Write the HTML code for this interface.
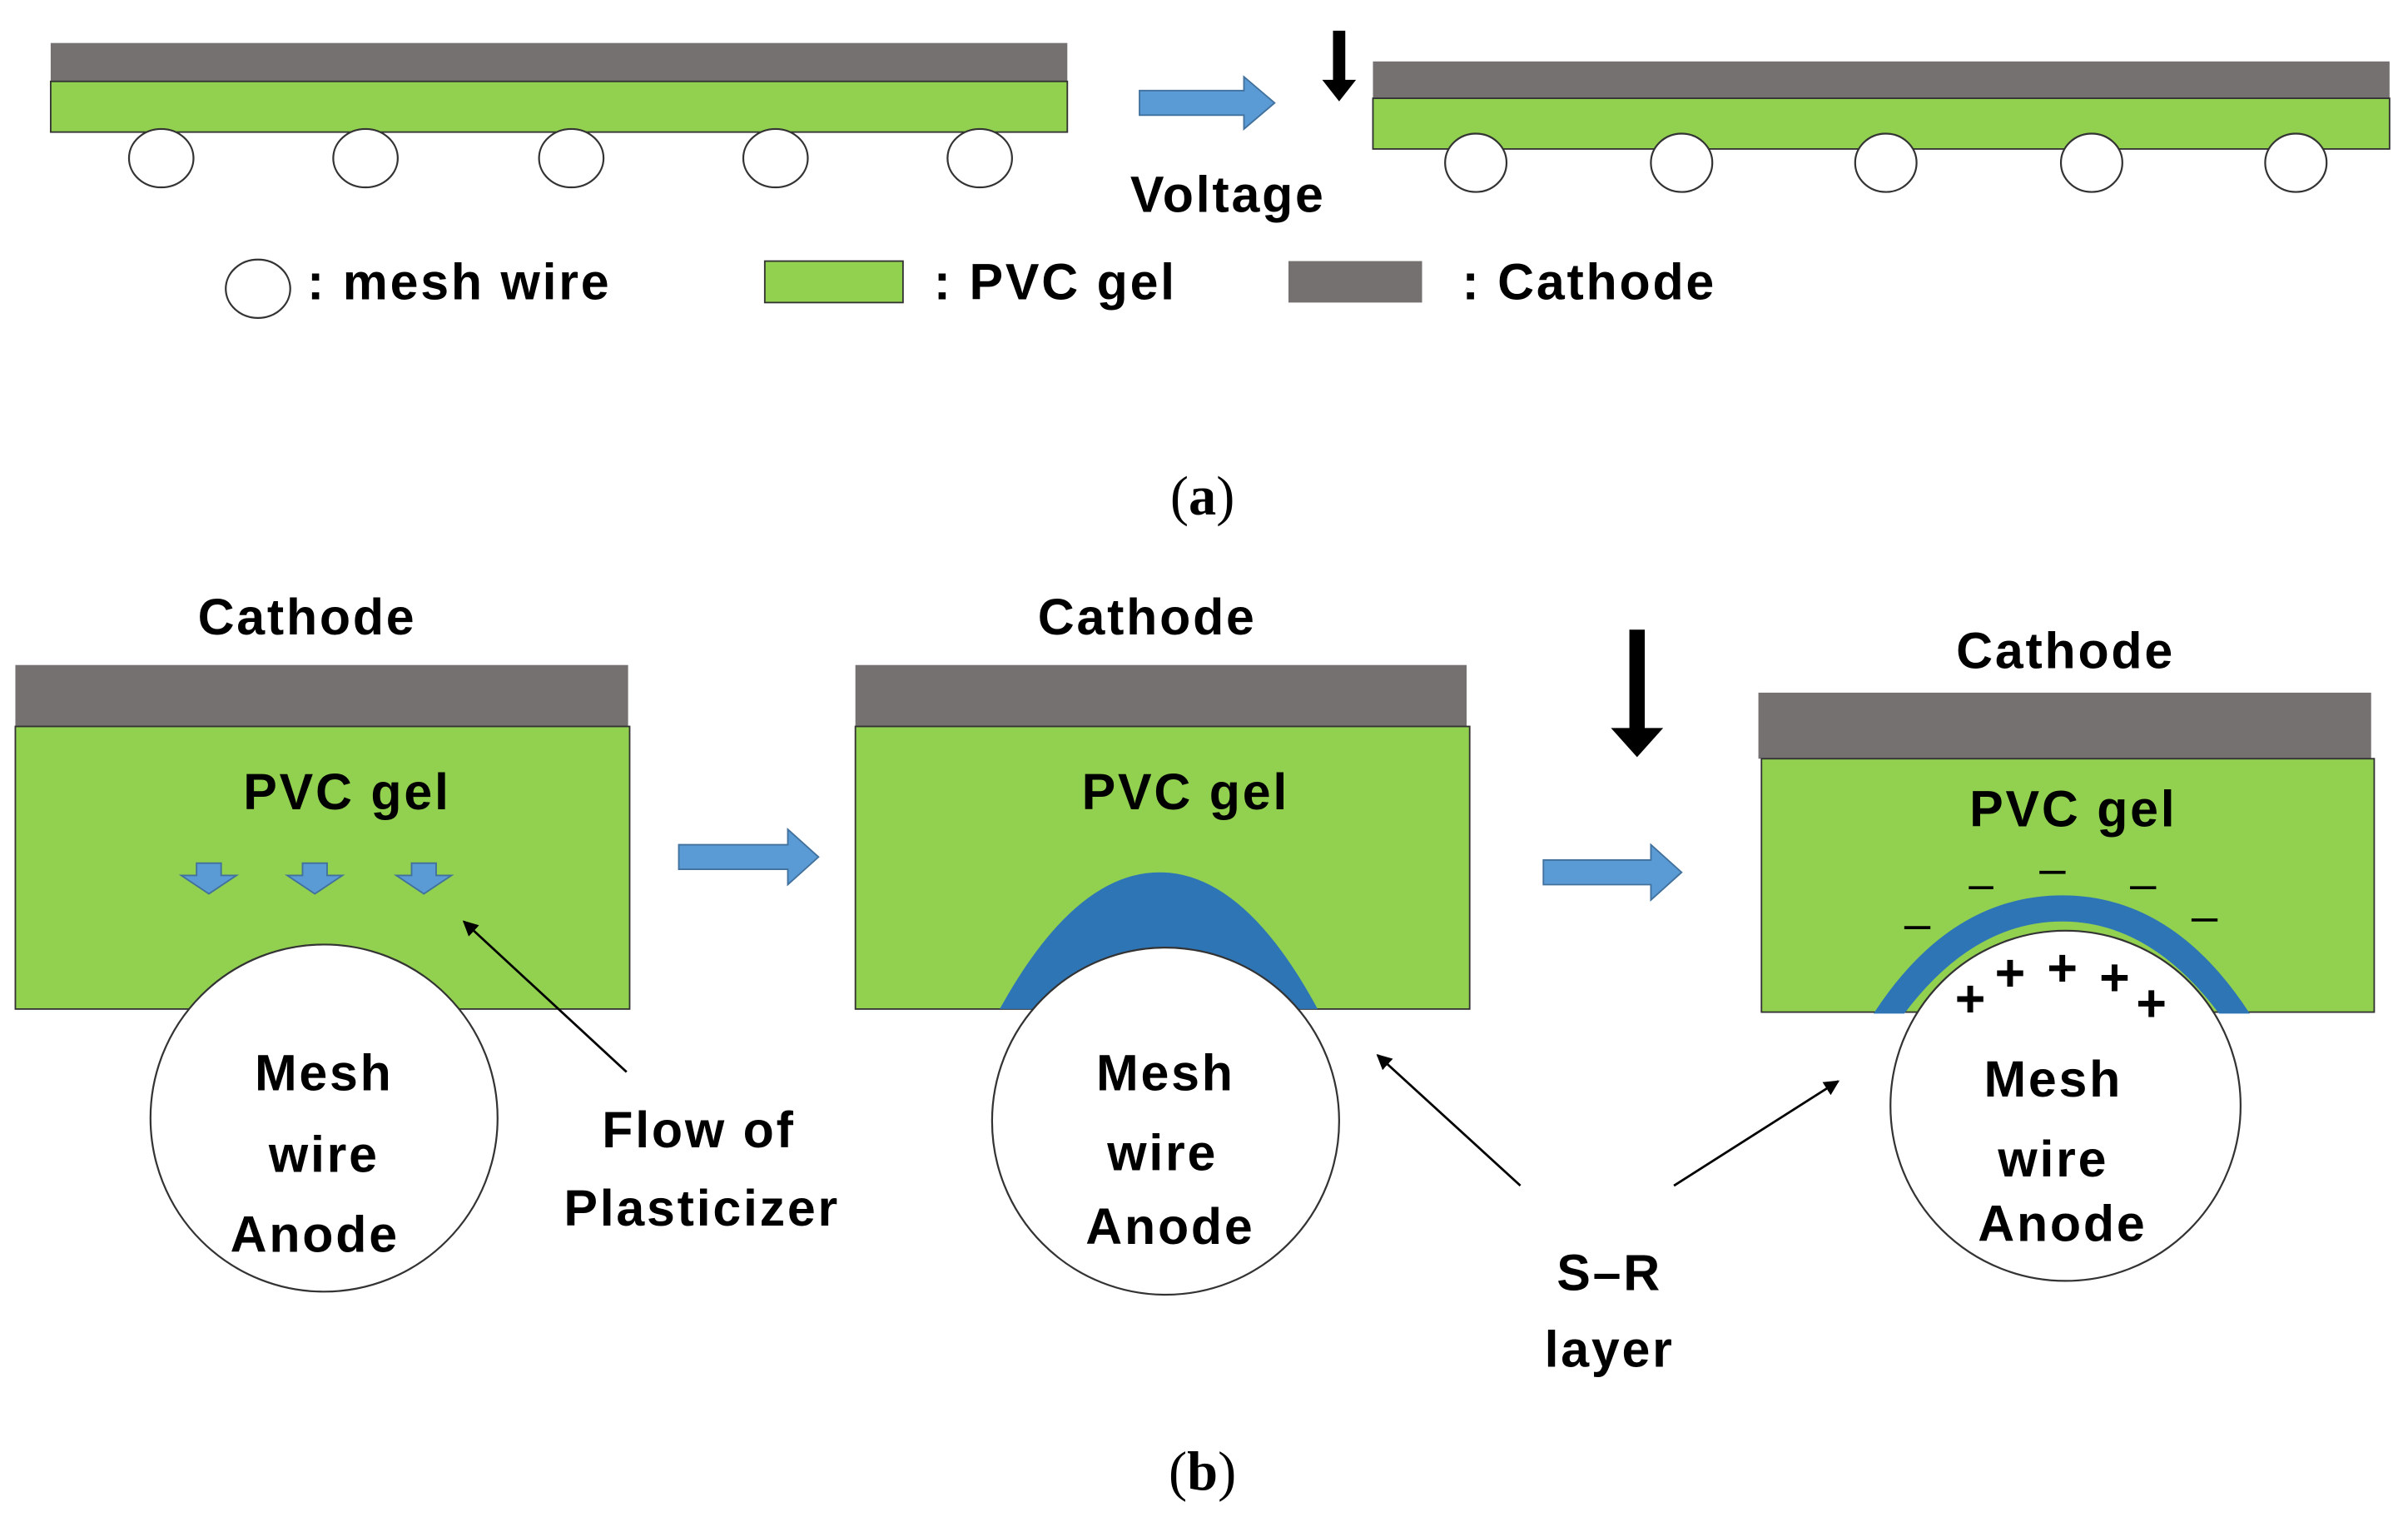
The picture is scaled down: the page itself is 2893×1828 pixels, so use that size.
<!DOCTYPE html>
<html><head><meta charset="utf-8"><style>html,body{margin:0;padding:0;background:#fff;}svg{display:block}</style></head>
<body>
<svg width="2893" height="1828" viewBox="0 0 1568 991" preserveAspectRatio="none" xmlns="http://www.w3.org/2000/svg">
<defs>
<marker id="ah" markerWidth="10" markerHeight="10" refX="9" refY="5" orient="auto" markerUnits="userSpaceOnUse"><path d="M0,0 L10,5 L0,10 z" fill="#000"/></marker>
</defs>
<g font-family="Liberation Sans, sans-serif" font-weight="bold" fill="#000" letter-spacing="1.5">
<!-- (a) -->
<rect x="33" y="28" width="662" height="25" fill="#767171"/>
<rect x="33" y="53" width="662" height="33" fill="#92d050" stroke="#333" stroke-width="1"/>
<g fill="#fff" stroke="#333" stroke-width="1.2">
<ellipse cx="105" cy="103" rx="21" ry="19"/><ellipse cx="238" cy="103" rx="21" ry="19"/><ellipse cx="372" cy="103" rx="21" ry="19"/><ellipse cx="505" cy="103" rx="21" ry="19"/><ellipse cx="638" cy="103" rx="21" ry="19"/>
</g>
<path d="M742,59 L810,59 L810,50 L830,67 L810,84 L810,75 L742,75 z" fill="#5b9bd5" stroke="#41719c" stroke-width="1"/>
<path d="M868,20 L876,20 L876,52 L883,52 L872,66 L861,52 L868,52 z" fill="#000"/>
<rect x="894" y="40" width="662" height="24" fill="#767171"/>
<rect x="894" y="64" width="662" height="33" fill="#92d050" stroke="#333" stroke-width="1"/>
<g fill="#fff" stroke="#333" stroke-width="1.2">
<ellipse cx="961" cy="106" rx="20" ry="19"/><ellipse cx="1095" cy="106" rx="20" ry="19"/><ellipse cx="1228" cy="106" rx="20" ry="19"/><ellipse cx="1362" cy="106" rx="20" ry="19"/><ellipse cx="1495" cy="106" rx="20" ry="19"/>
</g>
<text x="736" y="138" font-size="33">Voltage</text>
<ellipse cx="168" cy="188" rx="21" ry="19" fill="#fff" stroke="#333" stroke-width="1.2"/>
<text x="200" y="195" font-size="33">: mesh wire</text>
<rect x="498" y="170" width="90" height="27" fill="#92d050" stroke="#333" stroke-width="1"/>
<text x="608" y="195" font-size="33">: PVC gel</text>
<rect x="839" y="170" width="87" height="27" fill="#767171"/>
<text x="952" y="195" font-size="33">: Cathode</text>
<text x="783" y="335" font-size="36" font-family="Liberation Serif, serif" font-weight="normal" text-anchor="middle" letter-spacing="0">(<tspan font-weight="bold">a</tspan>)</text>

<!-- (b) panel 1 -->
<text x="200" y="413" font-size="33" text-anchor="middle">Cathode</text>
<rect x="10" y="433" width="399" height="40" fill="#767171"/>
<rect x="10" y="473" width="400" height="184" fill="#92d050" stroke="#333" stroke-width="1"/>
<text x="226" y="527" font-size="33" text-anchor="middle">PVC gel</text>
<g fill="#5b9bd5" stroke="#41719c" stroke-width="1">
<path d="M128,562 L144,562 L144,570 L154,570 L136,582 L118,570 L128,570 z"/>
<path d="M197,562 L213,562 L213,570 L223,570 L205,582 L187,570 L197,570 z"/>
<path d="M268,562 L284,562 L284,570 L294,570 L276,582 L258,570 L268,570 z"/>
</g>
<circle cx="211" cy="728" r="113" fill="#fff" stroke="#333" stroke-width="1.2"/>
<text x="211" y="710" font-size="33" text-anchor="middle">Mesh</text>
<text x="211" y="763" font-size="33" text-anchor="middle">wire</text>
<text x="205" y="815" font-size="33" text-anchor="middle">Anode</text>
<text x="455" y="747" font-size="33" text-anchor="middle">Flow of</text>
<text x="457" y="798" font-size="33" text-anchor="middle">Plasticizer</text>
<line x1="408" y1="698" x2="302" y2="600" stroke="#000" stroke-width="1.5" marker-end="url(#ah)"/>
<path d="M442,550 L513,550 L513,540 L533,558 L513,576 L513,566 L442,566 z" fill="#5b9bd5" stroke="#41719c" stroke-width="1"/>

<!-- panel 2 -->
<text x="747" y="413" font-size="33" text-anchor="middle">Cathode</text>
<rect x="557" y="433" width="398" height="40" fill="#767171"/>
<rect x="557" y="473" width="400" height="184" fill="#92d050" stroke="#333" stroke-width="1"/>
<text x="772" y="527" font-size="33" text-anchor="middle">PVC gel</text>
<path d="M651,657 Q700,568 755,568 Q810,568 858,657 z" fill="#2e75b6"/>
<circle cx="759" cy="730" r="113" fill="#fff" stroke="#333" stroke-width="1.2"/>
<text x="759" y="710" font-size="33" text-anchor="middle">Mesh</text>
<text x="757" y="762" font-size="33" text-anchor="middle">wire</text>
<text x="762" y="810" font-size="33" text-anchor="middle">Anode</text>
<path d="M1061,410 L1071,410 L1071,474 L1083,474 L1066,493 L1049,474 L1061,474 z" fill="#000"/>
<path d="M1005,560 L1075,560 L1075,550 L1095,568 L1075,586 L1075,576 L1005,576 z" fill="#5b9bd5" stroke="#41719c" stroke-width="1"/>

<!-- panel 3 -->
<text x="1345" y="435" font-size="33" text-anchor="middle">Cathode</text>
<rect x="1145" y="451" width="399" height="43" fill="#767171"/>
<rect x="1147" y="494" width="399" height="165" fill="#92d050" stroke="#333" stroke-width="1"/>
<text x="1350" y="538" font-size="33" text-anchor="middle">PVC gel</text>
<path d="M1220,660 Q1270,583 1343,583 Q1415,583 1465,660 L1445,660 Q1400,600 1343,600 Q1285,600 1240,660 z" fill="#2e75b6"/>
<circle cx="1345" cy="720" r="114" fill="#fff" stroke="#333" stroke-width="1.2"/>
<g stroke="#000" stroke-width="2">
<line x1="1282" y1="578" x2="1298" y2="578"/><line x1="1328" y1="568" x2="1345" y2="568"/><line x1="1387" y1="578" x2="1404" y2="578"/>
<line x1="1240" y1="604" x2="1257" y2="604"/><line x1="1427" y1="599" x2="1444" y2="599"/>
</g>
<g font-size="34" font-weight="bold" letter-spacing="0">
<text x="1273" y="662">+</text><text x="1299" y="645">+</text><text x="1333" y="642">+</text><text x="1367" y="648">+</text><text x="1391" y="665">+</text>
</g>
<text x="1337" y="714" font-size="33" text-anchor="middle">Mesh</text>
<text x="1337" y="766" font-size="33" text-anchor="middle">wire</text>
<text x="1343" y="808" font-size="33" text-anchor="middle">Anode</text>
<text x="1048" y="840" font-size="33" text-anchor="middle">S–R</text>
<text x="1048" y="890" font-size="33" text-anchor="middle">layer</text>
<line x1="990" y1="772" x2="897" y2="687" stroke="#000" stroke-width="1.5" marker-end="url(#ah)"/>
<line x1="1090" y1="772" x2="1197" y2="704" stroke="#000" stroke-width="1.5" marker-end="url(#ah)"/>
<text x="783" y="970" font-size="36" font-family="Liberation Serif, serif" font-weight="normal" text-anchor="middle" letter-spacing="0">(<tspan font-weight="bold">b</tspan>)</text>
</g>
</svg>
</body></html>
